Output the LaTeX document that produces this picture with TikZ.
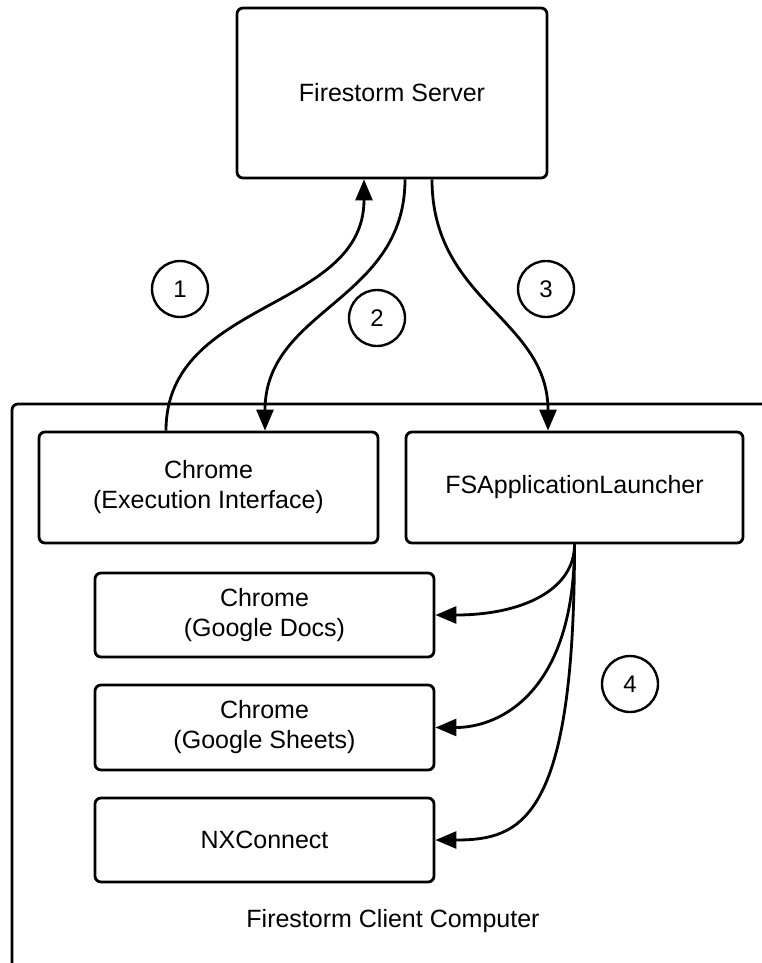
\documentclass[tikz,border=0pt]{standalone}
\usepackage{fontspec}
\setmainfont{Liberation Sans}
\usetikzlibrary{arrows.meta,calc}
\begin{document}
\begin{tikzpicture}[x=1pt,y=-1pt,
  box/.style={draw,line width=2.8pt,rounded corners=6pt,rectangle,align=center,
    font=\fontsize{25}{30}\selectfont,inner sep=0pt},
  num/.style={draw,circle,line width=2.4pt,minimum size=56pt,inner sep=0pt,
    font=\fontsize{24}{28}\selectfont},
  conn/.style={line width=2.8pt,-{Triangle[length=21pt,width=17pt]}}
]
\useasboundingbox (0,0) rectangle (762,963);
\clip (0,0) rectangle (762,963);

% outer client computer frame
\draw[line width=2.8pt,rounded corners=6pt] (12,990) |- (790,404);
\node[font=\fontsize{25}{30}\selectfont] (clientlbl) at (393,921) {Firestorm Client Computer};

\node[box,minimum width=310pt,minimum height=170pt] (server) at (392,93) {Firestorm Server};
\node[box,minimum width=339pt,minimum height=111pt] (exec) at (208.5,487.5) {Chrome\\(Execution Interface)};
\node[box,minimum width=337pt,minimum height=111pt] (fsapp) at (574.5,487.5) {FSApplicationLauncher};
\node[box,minimum width=339pt,minimum height=84pt] (docs) at (264.5,615) {Chrome\\(Google Docs)};
\node[box,minimum width=339pt,minimum height=85pt] (sheets) at (264.5,727.5) {Chrome\\(Google Sheets)};
\node[box,minimum width=339pt,minimum height=84pt] (nx) at (264.5,840) {NXConnect};

\node[num] (n1) at (180,289) {1};
\node[num] (n2) at (377,318) {2};
\node[num] (n3) at (546,289) {3};
\node[num] (n4) at (630,684) {4};

\draw[conn] ([xshift=-42.5pt]exec.north) .. controls +(0,-132) and +(0,132) .. ([xshift=-28pt]server.south);
\draw[conn] ([xshift=13pt]server.south) .. controls +(0,122) and +(0,-122) .. ([xshift=56.5pt]exec.north);
\draw[conn] ([xshift=40pt]server.south) .. controls +(0,122) and +(0,-112) .. ([xshift=-26.5pt]fsapp.north);

\draw[conn] (fsapp.south) .. controls +(0,46) and +(86,0) .. (docs.east);
\draw[conn] (fsapp.south) .. controls +(0,146) and +(66,0) .. (sheets.east);
\draw[conn] (fsapp.south) .. controls +(0,276) and +(86,0) .. (nx.east);
\end{tikzpicture}
\end{document}
